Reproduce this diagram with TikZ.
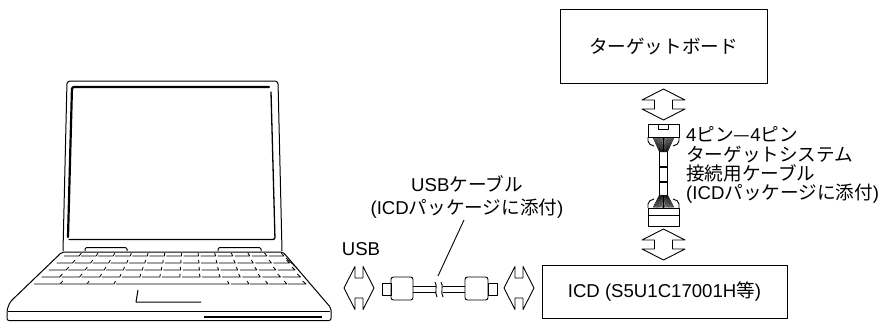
\documentclass[tikz,border=0pt]{standalone}
\usepackage{fontspec}
\setmainfont{Liberation Sans}
\newfontfamily\jp{Noto Sans CJK JP}
\begin{document}
\begin{tikzpicture}[x=1pt,y=-1pt,line join=round,
  txt/.style={inner sep=0pt,font=\fontsize{18.6}{19.2}\selectfont},
  box/.style={txt,draw=black,line width=0.9pt,rectangle},
  thinline/.style={line width=0.9pt},
  lapline/.style={line width=1pt},
  keyline/.style={line width=0.8pt},
  harrow/.pic={
    \draw[thinline] (-15,0) -- (-4,-21.5) -- (-4,-10) -- (4,-10) -- (4,-21.5) -- (15,0)
      -- (4,21.5) -- (4,10) -- (-4,10) -- (-4,21.5) -- cycle;},
  varrow/.pic={
    \draw[thinline] (0,-15.5) -- (21.5,-4.5) -- (9,-4.5) -- (9,4.5) -- (21.5,4.5) -- (0,15.5)
      -- (-21.5,4.5) -- (-9,4.5) -- (-9,-4.5) -- (-21.5,-4.5) -- cycle;}]

\useasboundingbox (0,0) rectangle (882,322);

% ---------------- laptop ----------------
% lid
\draw[lapline,rounded corners=3pt] (63,251) -- (67,81) -- (278,81) -- (282,251);
% screen
\draw[line width=2.2pt,rounded corners=2pt,line cap=round] (68,237) -- (72,87) -- (269,87);
\draw[line width=1.3pt,rounded corners=2pt,line cap=round] (271,92) -- (275,239.5) -- (69,239.5);
% hinges
\draw[lapline,rounded corners=1.5pt] (85,251) -- (85,247.5) -- (127,247.5) -- (127,251);
\draw[lapline,rounded corners=1.5pt] (218,251) -- (218,247.5) -- (261,247.5) -- (261,251);
% base
\draw[lapline,rounded corners=2pt] (62,252) -- (10,302) -- (7,310) -- (7,320.5)
  -- (331,320.5) -- (331,308) -- (283,252) -- cycle;
\draw[lapline] (8,311) -- (330,311);
\draw[line width=2.6pt] (204,317) -- (322,317);
% touch pad
\draw[lapline] (138,290) -- (136,302) -- (201,302);
% keyboard
\foreach \r in {0,1,2,3} {
  \pgfmathsetmacro\yy{256+7*\r}
  \pgfmathsetmacro\xl{63-7.5*\r}
  \pgfmathsetmacro\xr{285+5.5*\r}
  \pgfmathsetmacro\kw{(\xr-\xl)/13}
  \foreach \k in {0,...,12} {
    \pgfmathsetmacro\xa{\xl+\k*\kw+1}
    \pgfmathsetmacro\xb{\xl+(\k+1)*\kw-1}
    \pgfmathsetmacro\sl{(172-\xb)*0.025}
    \draw[keyline] (\xa,\yy) -- (\xb,\yy) -- (\xb+\sl,\yy-3);
  }
}
\foreach \xa/\xb in {34/60,61/87,88/114,116/229,231/249,250/268,269/287,288/306} {
  \pgfmathsetmacro\sl{(172-\xb)*0.025}
  \draw[keyline] (\xa,284) -- (\xb,284) -- (\xb+\sl,281);
}
\draw[keyline] (286,258) -- (297,268);

% ---------------- boxes ----------------
\node[box,minimum width=207pt,minimum height=74pt] (tb) at (663.5,46) {\jp ターゲットボード};
\node[box,minimum width=245pt,minimum height=53pt] (icd) at (664.5,291.5) {ICD (S5U1C17001H{\jp 等})};

% ---------------- block arrows ----------------
\pic (usbL) at (359,288) {harrow};
\pic (usbR) at (519,288) {harrow};
\pic (tgtT) at (663.5,104.5) {varrow};
\pic (tgtB) at (663.5,244.5) {varrow};

% ---------------- USB cable ----------------
\draw[thinline] (382,283) rectangle (391,295);
\draw[thinline,rounded corners=2.5pt] (391,277) rectangle (413,300);
\draw[thinline] (413,286) -- (435.5,286) (413,292) -- (435.5,292);
\draw[thinline] (435,282) .. controls (438,286) and (434,292) .. (437,297);
\draw[thinline] (441,282) .. controls (444,286) and (440,292) .. (443,297);
\draw[thinline] (442.5,286) -- (465,286) (442.5,292) -- (465,292);
\draw[thinline,rounded corners=2.5pt] (465,277) rectangle (488,300);
\draw[thinline] (488,283) rectangle (497,295);

\node[txt] (usb) at (361,249) {USB};
\node[txt,align=center] (usbcbl) at (467,197) {USB{\jp ケーブル}\\[3pt](ICD{\jp パッケージに添付})};
\coordinate (leadtop) at (464,220);
\coordinate (brk) at (438,276);
\draw[thinline] (leadtop) -- (brk);

% ---------------- target cable ----------------
% upper plug
\draw[thinline] (648,124) rectangle (679,137);
\draw[thinline] (658.5,124) rectangle (668.5,129);
\draw[thinline] (648,137) -- (648,141) .. controls (648,144) and (651,145) .. (654,146);
\draw[thinline] (679,137) -- (679,141) .. controls (679,144) and (676,145) .. (673,146);
\foreach \i in {0,...,24}
  \draw[line width=0.45pt] ({653+\i*21/24},137.5) -- ({659.5+\i*8/24},152);
% lower plug
\draw[thinline] (648,208) rectangle (679,226);
\draw[thinline] (648,215.5) -- (679,215.5);
\draw[thinline] (648,208) -- (648,204) .. controls (648,201) and (651,200) .. (654,199);
\draw[thinline] (679,208) -- (679,204) .. controls (679,201) and (676,200) .. (673,199);
\foreach \i in {0,...,24}
  \draw[line width=0.45pt] ({653+\i*21/24},207.5) -- ({659.5+\i*8/24},195);
% cord
\draw[thinline] (659.5,152) -- (659.5,195) (667.5,152) -- (667.5,195);
\draw[line width=1.8pt] (659.5,167) -- (667.5,167) (659.5,182) -- (667.5,182);

\node[txt,align=left,anchor=west] (tcbl) at (686,165)
  {4{\jp ピン—}4{\jp ピン}\\{\jp ターゲットシステム}\\{\jp 接続用ケーブル}\\(ICD{\jp パッケージに添付})};
\end{tikzpicture}
\end{document}
